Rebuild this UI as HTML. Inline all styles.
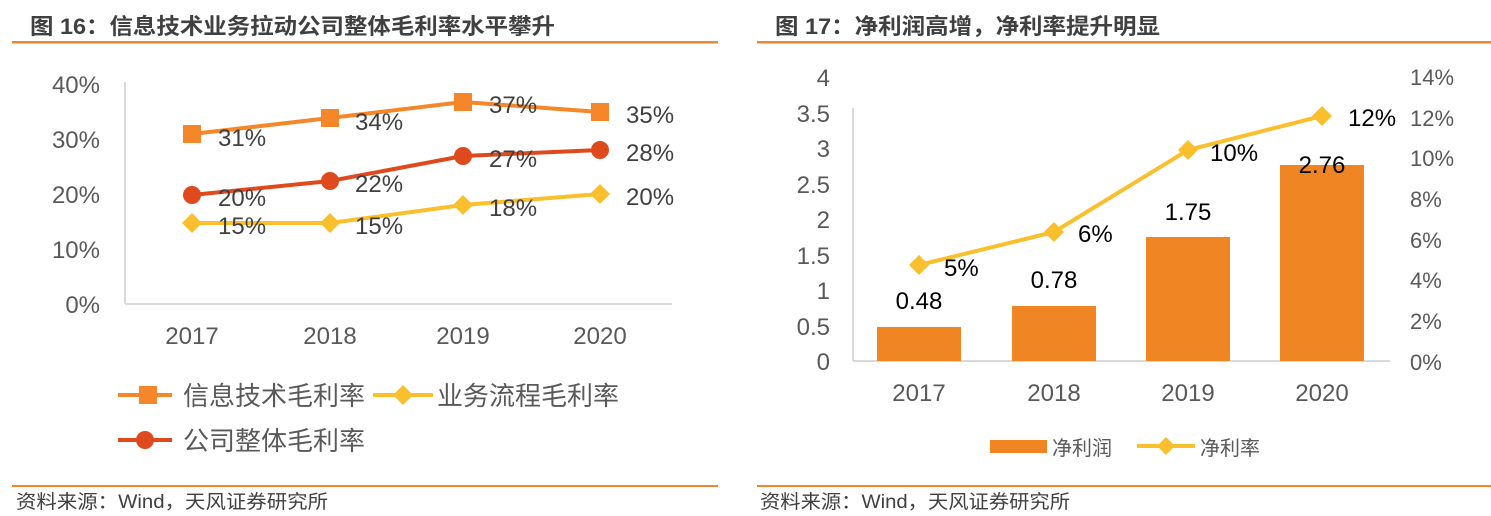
<!DOCTYPE html>
<html><head><meta charset="utf-8"><style>
body{margin:0;background:#fff;}
svg{display:block;font-family:"Liberation Sans","Noto Sans CJK SC",sans-serif;}
</style></head><body>
<svg width="1491" height="516" viewBox="0 0 1491 516" xmlns="http://www.w3.org/2000/svg">
<!-- left panel -->
<text x="30" y="34" font-size="22" font-weight="bold" fill="#404040" textLength="525" lengthAdjust="spacingAndGlyphs">图 16：信息技术业务拉动公司整体毛利率水平攀升</text>
<rect x="12" y="41" width="706" height="2.5" fill="#F0852F"/>
<line x1="125" y1="82" x2="125" y2="304" stroke="#d9d9d9" stroke-width="2"/>
<line x1="125" y1="304" x2="672" y2="304" stroke="#d9d9d9" stroke-width="2"/>
<g font-size="24" fill="#595959" text-anchor="end">
<text x="100" y="93">40%</text><text x="100" y="148">30%</text><text x="100" y="203">20%</text><text x="100" y="258">10%</text><text x="100" y="313">0%</text>
</g>
<g font-size="24" fill="#595959" text-anchor="middle">
<text x="192" y="344">2017</text><text x="330" y="344">2018</text><text x="463" y="344">2019</text><text x="600" y="344">2020</text>
</g>
<polyline points="192,134 330,118 463,102 600,112" fill="none" stroke="#F5862A" stroke-width="4"/>
<g fill="#F5862A"><rect x="183" y="125" width="18" height="18"/><rect x="321" y="109" width="18" height="18"/><rect x="454" y="93" width="18" height="18"/><rect x="591" y="103" width="18" height="18"/></g>
<polyline points="192,195 330,181 463,156 600,150" fill="none" stroke="#DE4A1E" stroke-width="4"/>
<g fill="#DE4A1E"><circle cx="192" cy="195" r="9"/><circle cx="330" cy="181" r="9"/><circle cx="463" cy="156" r="9"/><circle cx="600" cy="150" r="9"/></g>
<polyline points="192,223 330,223 463,205 600,194" fill="none" stroke="#F9BF2D" stroke-width="4"/>
<g fill="#F9BF2D"><path d="M192,213l10,10l-10,10l-10,-10z"/><path d="M330,213l10,10l-10,10l-10,-10z"/><path d="M463,195l10,10l-10,10l-10,-10z"/><path d="M600,184l10,10l-10,10l-10,-10z"/></g>
<g font-size="24" fill="#404040">
<text x="218" y="146">31%</text><text x="355" y="130">34%</text><text x="489" y="113">37%</text><text x="626" y="123">35%</text>
<text x="218" y="206">20%</text><text x="355" y="192">22%</text><text x="489" y="167">27%</text><text x="626" y="161">28%</text>
<text x="218" y="234">15%</text><text x="355" y="234">15%</text><text x="489" y="216">18%</text><text x="626" y="205">20%</text>
</g>
<line x1="118" y1="395" x2="172" y2="395" stroke="#F5862A" stroke-width="4"/><rect x="139" y="386" width="18" height="18" fill="#F5862A"/>
<text x="183" y="405" font-size="26" fill="#595959">信息技术毛利率</text>
<line x1="373" y1="395" x2="433" y2="395" stroke="#F9BF2D" stroke-width="4"/><path d="M403,385l10,10l-10,10l-10,-10z" fill="#F9BF2D"/>
<text x="437" y="405" font-size="26" fill="#595959">业务流程毛利率</text>
<line x1="118" y1="440" x2="172" y2="440" stroke="#DE4A1E" stroke-width="4"/><circle cx="145" cy="440" r="9" fill="#DE4A1E"/>
<text x="183" y="450" font-size="26" fill="#595959">公司整体毛利率</text>
<rect x="12" y="485" width="706" height="2" fill="#F0852F"/>
<text x="16" y="508" font-size="19" fill="#404040" textLength="312" lengthAdjust="spacingAndGlyphs">资料来源：Wind，天风证券研究所</text>

<!-- right panel -->
<text x="775" y="34" font-size="22" font-weight="bold" fill="#404040" textLength="385" lengthAdjust="spacingAndGlyphs">图 17：净利润高增，净利率提升明显</text>
<rect x="757" y="41" width="734" height="2.5" fill="#F0852F"/>
<line x1="853" y1="108" x2="853" y2="361" stroke="#d9d9d9" stroke-width="2"/>
<line x1="853" y1="361" x2="1390" y2="361" stroke="#d9d9d9" stroke-width="2"/>
<g font-size="24" fill="#595959" text-anchor="end">
<text x="830" y="86">4</text><text x="830" y="122">3.5</text><text x="830" y="157">3</text><text x="830" y="193">2.5</text><text x="830" y="228">2</text><text x="830" y="264">1.5</text><text x="830" y="299">1</text><text x="830" y="335">0.5</text><text x="830" y="370">0</text>
</g>
<g font-size="22" fill="#595959">
<text x="1410" y="85">14%</text><text x="1410" y="126">12%</text><text x="1410" y="166">10%</text><text x="1410" y="207">8%</text><text x="1410" y="248">6%</text><text x="1410" y="288">4%</text><text x="1410" y="329">2%</text><text x="1410" y="370">0%</text>
</g>
<g fill="#F08524">
<rect x="877" y="327" width="84" height="34"/><rect x="1012" y="306" width="84" height="55"/><rect x="1146" y="237" width="84" height="124"/><rect x="1280" y="165" width="84" height="196"/>
</g>
<polyline points="919,265 1054,232 1188,150 1322,116" fill="none" stroke="#F9BF2D" stroke-width="4"/>
<g fill="#F9BF2D"><path d="M919,255l10,10l-10,10l-10,-10z"/><path d="M1054,222l10,10l-10,10l-10,-10z"/><path d="M1188,140l10,10l-10,10l-10,-10z"/><path d="M1322,106l10,10l-10,10l-10,-10z"/></g>
<g font-size="24" fill="#000">
<text x="944" y="276">5%</text><text x="1078" y="242">6%</text><text x="1210" y="161">10%</text><text x="1348" y="126">12%</text>
</g>
<g font-size="24" fill="#000" text-anchor="middle">
<text x="919" y="309">0.48</text><text x="1054" y="288">0.78</text><text x="1188" y="220">1.75</text><text x="1322" y="173">2.76</text>
</g>
<g font-size="24" fill="#595959" text-anchor="middle">
<text x="919" y="401">2017</text><text x="1054" y="401">2018</text><text x="1188" y="401">2019</text><text x="1322" y="401">2020</text>
</g>
<rect x="990" y="440" width="57" height="13" fill="#F08524"/>
<text x="1052" y="455" font-size="20" fill="#595959">净利润</text>
<line x1="1137" y1="446" x2="1195" y2="446" stroke="#F9BF2D" stroke-width="4"/><path d="M1166,437l9,9l-9,9l-9,-9z" fill="#F9BF2D"/>
<text x="1200" y="455" font-size="20" fill="#595959">净利率</text>
<rect x="757" y="485" width="734" height="2" fill="#F0852F"/>
<text x="760" y="508" font-size="19" fill="#404040" textLength="310" lengthAdjust="spacingAndGlyphs">资料来源：Wind，天风证券研究所</text>
</svg>
</body></html>
